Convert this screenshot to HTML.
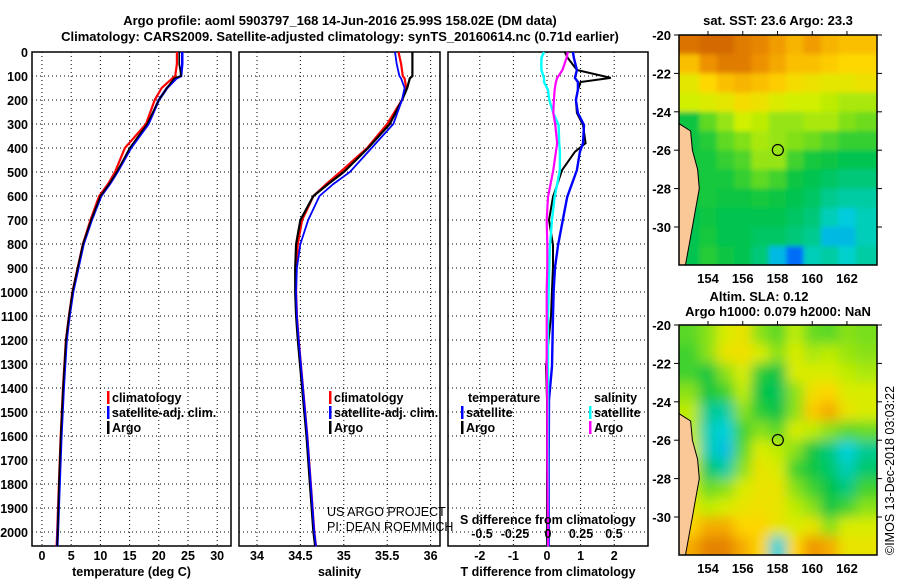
<!DOCTYPE html>
<html><head><meta charset="utf-8"><style>
body{margin:0;background:#fff}
svg{display:block;font-family:"Liberation Sans",sans-serif}
.b{font-weight:bold;font-size:13px}
.t{font-weight:bold;font-size:12.5px}
.n{font-weight:normal;font-size:12.5px}
</style></head><body>
<svg id="fig" width="900" height="580" viewBox="0 0 900 580">
<defs>
<filter id="blur1" x="0" y="0" width="100%" height="100%"><feGaussianBlur stdDeviation="2.5"/></filter>
<filter id="blur2" x="0" y="0" width="100%" height="100%"><feGaussianBlur stdDeviation="6"/></filter>
<clipPath id="c1"><rect x="679" y="35" width="198" height="230"/></clipPath>
<clipPath id="c2"><rect x="679" y="325" width="198" height="230"/></clipPath>
</defs>
<text class="b" x="340" y="25" text-anchor="middle">Argo profile: aoml 5903797_168 14-Jun-2016 25.99S 158.02E (DM data)</text>
<text class="b" x="340" y="41" text-anchor="middle">Climatology: CARS2009. Satellite-adjusted climatology: synTS_20160614.nc (0.71d earlier)</text>
<g id="g"></g>
</svg>
<script>
// ---- profile data ----
const depthT=[0,50,100,110,150,200,300,400,500,550,600,700,800,900,1000,1100,1200,1400,1600,1800,2000,2060];
const tempClim=[23.1,23.1,22.8,22.3,20.5,19.3,17.8,14.2,12.5,11.3,9.8,8.3,7.0,6.1,5.2,4.6,4.1,3.6,3.2,2.9,2.6,2.5];
const tempSat=[24.0,24.0,23.8,23.0,21.4,20.0,18.2,15.2,12.9,11.6,10.1,8.5,7.1,6.2,5.3,4.7,4.2,3.7,3.3,3.0,2.7,2.6];
const tempArgo=[23.5,23.5,23.8,22.6,21.4,20.0,18.0,15.0,12.8,11.5,10.0,8.4,7.0,6.1,5.2,4.6,4.1,3.6,3.2,2.9,2.7,2.6];
const salClim=[35.63,35.66,35.68,35.70,35.72,35.67,35.50,35.27,34.96,34.80,34.65,34.52,34.47,34.45,34.45,34.46,34.48,34.53,34.58,34.62,34.66,34.68];
const salSat=[35.59,35.61,35.64,35.66,35.70,35.67,35.57,35.32,35.07,34.88,34.72,34.59,34.50,34.46,34.45,34.46,34.48,34.53,34.58,34.62,34.66,34.68];
const salArgo=[35.79,35.79,35.79,35.76,35.73,35.67,35.53,35.28,35.00,34.82,34.65,34.50,34.45,34.44,34.44,34.45,34.47,34.52,34.57,34.61,34.65,34.67];
const depthD=[0,25,75,108,125,158,200,254,304,380,416,492,604,700,804,895,992,1100,1310,1450,1700,2000,2060];
const dTSat=[0.77,0.8,0.89,0.83,0.92,0.92,0.86,0.92,1.1,1.07,0.98,0.89,0.6,0.47,0.33,0.24,0.2,0.18,0.15,0.06,0.05,0.05,0.05];
const dTArgo=[0.53,0.62,0.89,1.9,1.0,0.92,0.86,0.89,1.07,1.15,0.83,0.45,0.18,0.06,0.18,0.18,0.15,0.12,-0.03,0.0,0.0,0.0,0.0];
const dSSat=[-0.03,-0.05,-0.05,-0.03,-0.03,0.0,0.01,0.04,0.08,0.085,0.09,0.09,0.05,0.03,0.015,0.01,0.005,0.0,0.0,0.0,0.0,0.0,0.0];
const dSArgo=[0.15,0.14,0.11,0.07,0.06,0.05,0.045,0.04,0.055,0.07,0.06,0.04,0.0,-0.01,-0.005,-0.005,-0.01,-0.01,-0.01,-0.005,-0.005,0.0,0.0];
const depthTicks=[0,100,200,300,400,500,600,700,800,900,1000,1100,1200,1300,1400,1500,1600,1700,1800,1900,2000];
const tTicks=[0,5,10,15,20,25,30];
const sTicks=[34,34.5,35,35.5,36];
const dTTicks=[-2,-1,0,1,2];
const dSTickLabels=["-0.5","-0.25","0","0.25","0.5"];
const dSTicks=[-0.5,-0.25,0,0.25,0.5];
// ---- map data (rows lat -20.5..-31.5, cols lon 153..163) ----
const mapLats=[-20.5,-21.5,-22.5,-23.5,-24.5,-25.5,-26.5,-27.5,-28.5,-29.5,-30.5,-31.5];
const mapLons=[153,154,155,156,157,158,159,160,161,162,163];
const sst=[
[25.2,25.3,25.3,25.1,25,24.8,24.6,24.8,24.6,24.5,24.5],
[24.5,24.9,25.1,25.1,24.9,24.7,24.5,24.5,24.4,24.3,24.3],
[24,24.3,24.5,24.6,24.5,24.4,24.2,24.1,24,24,24.1],
[23.8,23.9,24,24.2,24.1,23.9,23.8,23.8,23.7,23.6,23.6],
[22.6,23.2,23.5,23.8,23.7,23.5,23.5,23.6,23.6,23.4,23.3],
[22.6,22.8,23.2,23.4,23.6,23.5,23.4,23.3,23.1,22.9,22.9],
[22.7,22.7,22.9,23.1,23.5,23.5,23,22.7,22.6,22.5,22.5],
[22.6,22.7,22.7,22.9,23.2,23,22.6,22.5,22.4,22.3,22.3],
[22.6,22.7,22.6,22.6,22.7,22.6,22.5,22.4,22.2,22.1,22.1],
[22.5,22.6,22.5,22.5,22.5,22.5,22.4,22.3,22.0,21.8,22.0],
[22.5,22.7,22.5,22.5,22.4,22.4,22.3,22.2,21.7,21.7,22.0],
[22.5,22.8,22.6,22.5,22.3,21.7,21.3,22.0,22.1,21.9,22.1]];
const sla=[
[0.02,0.05,0.1,0.12,0.05,0.02,0.08,0.03,0.02,0.05,0.04],
[0.0,0.05,0.12,0.13,0.1,0.05,0.1,0.07,0.08,0.06,0.05],
[0.0,-0.04,0.05,0.1,-0.02,-0.05,0.1,0.1,0.1,0.08,0.07],
[0.05,-0.04,0.0,0.08,-0.05,-0.06,0.05,0.13,0.15,0.1,0.1],
[0.08,-0.09,-0.1,0.05,-0.02,-0.05,0.05,0.16,0.19,0.12,0.1],
[0.08,-0.11,-0.13,0.0,0.05,0.02,0.1,0.08,0.05,0.02,0.03],
[0.1,-0.11,-0.14,0.02,0.1,0.08,0.05,-0.04,-0.08,-0.13,-0.09],
[0.1,-0.07,-0.1,0.05,0.12,0.1,0.0,-0.04,-0.07,-0.11,-0.07],
[0.1,0.03,0.05,0.1,0.12,0.12,0.05,0.0,-0.05,-0.08,0.0],
[0.12,0.08,0.1,0.12,0.13,0.12,0.08,0.05,-0.04,0.0,0.05],
[0.15,0.19,0.19,0.15,0.15,0.12,0.1,0.12,0.05,0.1,0.1],
[0.19,0.23,0.23,0.19,0.15,-0.13,0.15,0.21,0.19,0.12,0.12]];
const latTicks=[-20,-22,-24,-26,-28,-30];
const lonTicks=[154,156,158,160,162];
const coastLat=[-24.6,-25,-26,-27,-28,-29,-30,-31,-32];
const coastLon=[152.3,153.0,153.1,153.4,153.5,153.3,153.1,152.9,152.7];

const NS='http://www.w3.org/2000/svg';
const G=document.getElementById('g');
function mk(tag,at,parent){const e=document.createElementNS(NS,tag);for(const k in at)e.setAttribute(k,at[k]);(parent||G).appendChild(e);return e;}
const Y=d=>52+0.24*d;
const TOP=52,BOT=546;
const panels=[
 {x0:32,x1:231,sx:v=>42+5.84*v,ticks:tTicks,lab:tTicks.map(String),title:'temperature (deg C)',name:'temperature'},
 {x0:239,x1:440,sx:v=>257+(v-34)*86.8,ticks:sTicks,lab:sTicks.map(String),title:'salinity',name:'salinity'},
 {x0:448,x1:648,sx:v=>547+33.6*v,ticks:dTTicks,lab:dTTicks.map(String),title:'T difference from climatology',name:'difference'}];
const sxS=v=>548+132*v;
panels.forEach((p,i)=>{
  const g=mk('g',{});
  
  
  depthTicks.forEach(d=>{const l=mk('line',{x1:p.x0,x2:p.x1,y1:Y(d),y2:Y(d),stroke:'#000','stroke-width':1,'stroke-dasharray':'1,3'},g);
    });
  p.ticks.forEach((t,k)=>{const x=p.sx(t);
    const l=mk('line',{x1:x,x2:x,y1:TOP,y2:BOT,stroke:'#000','stroke-width':1,'stroke-dasharray':'1,3'},g);
    
    const tx=mk('text',{x:x,y:560,'text-anchor':'middle','class':'t'},g);tx.textContent=p.lab[k];
    });
  const r=mk('rect',{x:p.x0,y:TOP,width:p.x1-p.x0,height:BOT-TOP,fill:'none',stroke:'#000','stroke-width':1.5},g);
  
  const tt=mk('text',{x:(p.x0+p.x1)/2,y:576,'text-anchor':'middle','class':'t'},g);tt.textContent=p.title;
  
});
depthTicks.forEach(d=>{const t=mk('text',{x:28,y:Y(d)+5,'text-anchor':'end','class':'t'});t.textContent=d;
  });
function line(depths,vals,sx,color,w,name){
  const pts=depths.map((d,i)=>sx(vals[i]).toFixed(1)+','+Y(d).toFixed(1)).join(' ');
  const l=mk('polyline',{points:pts,fill:'none',stroke:color,'stroke-width':w});
  }
line(depthT,tempClim,panels[0].sx,'#f00',2.2,'temp-climatology-line');
line(depthT,tempSat,panels[0].sx,'#00f',2.6,'temp-satellite-line');
line(depthT,tempArgo,panels[0].sx,'#000',1.6,'temp-argo-line');
line(depthT,salClim,panels[1].sx,'#f00',2.2,'sal-climatology-line');
line(depthT,salArgo,panels[1].sx,'#000',2.2,'sal-argo-line');
line(depthT,salSat,panels[1].sx,'#00f',1.8,'sal-satellite-line');
line(depthD,dTArgo,panels[2].sx,'#000',2,'dt-argo-line');
line(depthD,dTSat,panels[2].sx,'#00f',2.4,'dt-satellite-line');
line(depthD,dSSat,sxS,'#0ff',2.4,'ds-satellite-line');
line(depthD,dSArgo,sxS,'#f0f',2.2,'ds-argo-line');
dSTicks.forEach((v,k)=>{const t=mk('text',{x:sxS(v),y:538,'text-anchor':'middle','class':'t'});t.textContent=dSTickLabels[k];
  });
function txt(x,y,s,name,cls,extra){const t=mk('text',Object.assign({x:x,y:y,'class':cls||'t'},extra||{}));t.textContent=s;
  return t;}
txt(460,524,'S difference from climatology','s-diff-axis-title');
function leg(x,y,c,s){const r=mk('rect',{x:x,y:y-11,width:2.5,height:13,fill:c});
  
  txt(x+5,y,s,'legend-entry');}
leg(107,402,'#f00','climatology');leg(107,417,'#00f','satellite-adj. clim.');leg(107,432,'#000','Argo');
leg(329,402,'#f00','climatology');leg(329,417,'#00f','satellite-adj. clim.');leg(329,432,'#000','Argo');
txt(468,402,'temperature','legend-header-temperature');txt(594,402,'salinity','legend-header-salinity');
leg(461,417,'#00f','satellite');leg(461,432,'#000','Argo');
leg(589,417,'#0ff','satellite');leg(589,432,'#f0f','Argo');
txt(327,516,'US ARGO PROJECT','project-credit','n');
txt(327,531,'PI: DEAN ROEMMICH','pi-credit','n');
// ---- maps ----
const stops=[[0,[0,90,255]],[0.15,[0,210,220]],[0.32,[0,195,70]],[0.5,[110,220,30]],[0.62,[210,240,0]],[0.74,[255,215,0]],[0.87,[240,150,0]],[1,[205,95,0]]];
function cmap(t){t=Math.max(0,Math.min(1,t));for(let i=1;i<stops.length;i++){if(t<=stops[i][0]){const a=stops[i-1],b=stops[i],f=(t-a[0])/(b[0]-a[0]);
  return 'rgb('+a[1].map((v,k)=>Math.round(v+(b[1][k]-v)*f)).join(',')+')';}}return 'rgb(205,95,0)';}
function drawMap(y0,grid,vmin,vmax,clip,blur,name){
  const lx=lon=>679+(lon-152.33)*17.37, ly=lat=>y0+(-20-lat)*19.2;
  const g=mk('g',{'clip-path':'url(#'+clip+')'});
  
  const inner=mk('g',{filter:'url(#'+blur+')'},g);
  mk('rect',{x:660,y:y0-20,width:240,height:270,fill:cmap((grid[5][5]-vmin)/(vmax-vmin))},inner);
  grid.forEach((row,r)=>row.forEach((v,c)=>{
    const cell=mk('rect',{x:lx(mapLons[c]-0.5)-(c==0?20:0),y:ly(mapLats[r]+0.5)-(r==0?20:0),width:17.37+1+(c==0||c==10?20:0),height:19.2+1+(r==0||r==11?20:0),fill:cmap((v-vmin)/(vmax-vmin))},inner);
    }));
  const cp=coastLat.map((la,i)=>lx(coastLon[i]).toFixed(1)+','+ly(la).toFixed(1));
  const land=mk('polygon',{points:'679,'+ly(-24.6)+' '+cp.join(' ')+' 679,'+(y0+240),fill:'#fac896',stroke:'#000','stroke-width':1},g);
  
  const ci=mk('circle',{cx:lx(158.02),cy:ly(-25.99),r:5.5,fill:'none',stroke:'#000','stroke-width':1.2},g);
  
  const fr=mk('rect',{x:679,y:y0,width:198,height:230,fill:'none',stroke:'#000','stroke-width':1.5});
  
  latTicks.forEach(la=>{mk('line',{x1:674,x2:679,y1:ly(la),y2:ly(la),stroke:'#000'});mk('line',{x1:877,x2:882,y1:ly(la),y2:ly(la),stroke:'#000'});
    txt(671,ly(la)+5,String(la),'lat-tick-label','b',{'text-anchor':'end'});});
  lonTicks.forEach(lo=>{mk('line',{x1:lx(lo),x2:lx(lo),y1:y0-4,y2:y0,stroke:'#000'});
    txt(lx(lo),y0+248,String(lo),'lon-tick-label','b',{'text-anchor':'middle'});});
}
drawMap(35,sst,21.2,25.4,'c1','blur1','sst-map');
drawMap(325,sla,-0.2,0.27,'c2','blur2','sla-map');
txt(778,25,'sat. SST: 23.6 Argo: 23.3','sst-map-title','b',{'text-anchor':'middle'});
txt(759,301,'Altim. SLA: 0.12','sla-map-title','b',{'text-anchor':'middle'});
txt(778,316,'Argo h1000: 0.079 h2000: NaN','sla-map-subtitle','b',{'text-anchor':'middle'});
txt(0,0,'©IMOS 13-Dec-2018 03:03:22','timestamp','n',{transform:'translate(894,555) rotate(-90)'});
</script>
</body></html>
